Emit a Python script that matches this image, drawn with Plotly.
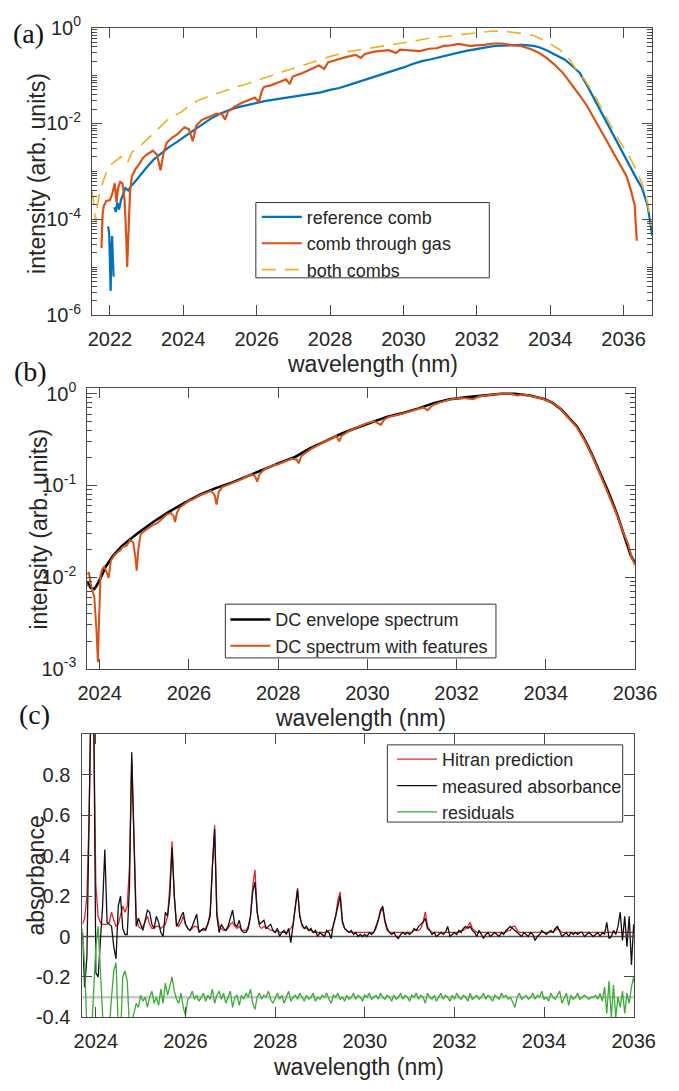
import plotly.graph_objects as go

# ---------------- Panel (a): comb spectra (log10 of intensity) ----------------
ref_wl = [2021.95, 2021.98, 2022.00, 2022.02, 2022.04, 2022.06, 2022.08, 2022.10, 2022.11, 2022.12,
          2022.16, 2022.20, 2022.25, 2022.30, 2022.36, 2022.42, 2022.50, 2022.58, 2022.65, 2022.80,
          2023.00, 2023.20, 2023.40, 2023.60, 2023.80, 2024.00, 2024.25, 2024.50, 2024.75, 2025.00,
          2025.25, 2025.50, 2025.75, 2026.00, 2026.25, 2026.50, 2026.75, 2027.00, 2027.25, 2027.50,
          2027.75, 2028.00, 2028.25, 2028.50, 2028.75, 2029.00, 2029.25, 2029.50, 2029.75, 2030.00,
          2030.25, 2030.50, 2030.75, 2031.00, 2031.25, 2031.50, 2031.75, 2032.00, 2032.25, 2032.50,
          2032.75, 2033.00, 2033.20, 2033.40, 2033.55, 2033.70, 2033.90, 2034.15, 2034.40, 2034.60,
          2034.80, 2035.00, 2035.20, 2035.40, 2035.60, 2035.85, 2036.10, 2036.30, 2036.50, 2036.65,
          2036.78]
ref_log10 = [-4.15, -4.3, -4.9, -5.5, -4.6, -4.35, -4.8, -5.2, None, -3.75,
             -3.85, -3.65, -3.8, -3.6, -3.45, -3.35, -3.4, -3.3, -3.25, -3.1,
             -2.92, -2.75, -2.62, -2.5, -2.4, -2.3, -2.16, -2.03, -1.9, -1.8,
             -1.72, -1.66, -1.61, -1.57, -1.53, -1.5, -1.47, -1.44, -1.42, -1.38,
             -1.35, -1.3, -1.26, -1.2, -1.14, -1.08, -1.02, -0.96, -0.9, -0.83,
             -0.76, -0.7, -0.66, -0.61, -0.56, -0.52, -0.48, -0.44, -0.41, -0.38,
             -0.37, -0.36, -0.36, -0.37, -0.38, -0.41, -0.47, -0.57, -0.67, -0.8,
             -0.94, -1.2, -1.49, -1.78, -2.08, -2.45, -2.78, -3.08, -3.35, -3.7,
             -4.35]

gas_wl = [2021.77, 2021.80, 2021.83, 2021.90, 2022.00, 2022.07, 2022.13, 2022.18, 2022.22, 2022.28,
          2022.34, 2022.40, 2022.44, 2022.47, 2022.51, 2022.55, 2022.60, 2022.70, 2022.80, 2022.90,
          2023.00, 2023.17, 2023.28, 2023.38, 2023.46, 2023.55, 2023.69, 2023.85, 2024.03, 2024.15,
          2024.26, 2024.35, 2024.50, 2024.70, 2024.90, 2025.05, 2025.14, 2025.22, 2025.40, 2025.60,
          2025.77, 2025.95, 2026.06, 2026.14, 2026.20, 2026.40, 2026.60, 2026.80, 2026.90, 2026.98,
          2027.20, 2027.50, 2027.70, 2027.84, 2027.95, 2028.10, 2028.40, 2028.70, 2028.84, 2028.95,
          2029.20, 2029.60, 2029.80, 2029.90, 2030.20, 2030.44, 2030.70, 2030.90, 2031.10, 2031.30,
          2031.50, 2031.80, 2032.00, 2032.20, 2032.45, 2032.70, 2033.00, 2033.20, 2033.48, 2033.70,
          2033.90, 2034.10, 2034.34, 2034.55, 2034.78, 2035.00, 2035.20, 2035.40, 2035.64, 2035.85,
          2036.08, 2036.20, 2036.30, 2036.36]
gas_log10 = [-4.6, -3.9, -3.73, -3.62, -3.6, -3.45, -3.25, -3.65, -3.35, -3.22,
             -3.25, -3.6, -4.3, -5.0, -4.2, -3.4, -3.1, -2.95, -2.85, -2.72,
             -2.65, -2.57, -2.65, -2.98, -2.62, -2.4, -2.3, -2.22, -2.08, -2.12,
             -2.37, -2.05, -1.93, -1.86, -1.8, -1.8, -1.92, -1.75, -1.65, -1.57,
             -1.51, -1.46, -1.55, -1.32, -1.24, -1.2, -1.14, -1.08, -1.18, -1.02,
             -0.96, -0.86, -0.79, -0.86, -0.72, -0.69, -0.62, -0.57, -0.63, -0.55,
             -0.5, -0.47, -0.53, -0.46, -0.47, -0.49, -0.44, -0.43, -0.38, -0.37,
             -0.34, -0.38, -0.37, -0.36, -0.33, -0.33, -0.37, -0.38, -0.45, -0.53,
             -0.63, -0.76, -0.94, -1.15, -1.39, -1.63, -1.9, -2.17, -2.5, -2.8,
             -3.1, -3.4, -3.7, -4.45]

both_wl = [2021.50, 2021.55, 2021.61, 2021.66, 2021.71, 2021.80, 2021.92, 2022.00, 2022.13, 2022.30,
           2022.47, 2022.60, 2022.83, 2023.00, 2023.25, 2023.60, 2023.95, 2024.20, 2024.40, 2024.70,
           2025.00, 2025.35, 2025.70, 2026.00, 2026.36, 2026.70, 2027.06, 2027.50, 2028.00, 2028.50,
           2029.00, 2029.60, 2030.20, 2030.70, 2031.20, 2031.74, 2032.10, 2032.45, 2032.80, 2033.04,
           2033.30, 2033.56, 2033.90, 2034.26, 2034.50, 2034.68, 2034.95, 2035.20, 2035.40, 2035.64,
           2035.90, 2036.16, 2036.35, 2036.50, 2036.65, 2036.75]
both_log10 = [-3.4, -3.6, -4.06, -3.7, -3.5, -3.25, -2.98, -2.88, -2.8, -2.7,
              -2.84, -2.6, -2.47, -2.35, -2.16, -1.9, -1.76, -1.6, -1.52, -1.43,
              -1.35, -1.26, -1.18, -1.1, -1.0, -0.92, -0.84, -0.72, -0.6, -0.5,
              -0.44, -0.37, -0.29, -0.22, -0.18, -0.14, -0.1, -0.07, -0.08, -0.1,
              -0.13, -0.17, -0.29, -0.46, -0.64, -0.84, -1.1, -1.4, -1.7, -2.03,
              -2.38, -2.7, -2.98, -3.25, -3.65, -4.14]

# ---------------- Panel (b): dual-comb spectra ----------------
env_wl = [2023.72, 2023.80, 2023.88, 2023.95, 2024.05, 2024.13, 2024.30, 2024.50, 2024.83, 2025.20,
          2025.55, 2025.90, 2026.26, 2026.60, 2026.96, 2027.30, 2027.68, 2028.00, 2028.38, 2028.70,
          2029.05, 2029.40, 2029.72, 2030.10, 2030.45, 2030.80, 2031.15, 2031.50, 2031.85, 2032.20,
          2032.57, 2033.00, 2033.30, 2033.64, 2033.98, 2034.15, 2034.34, 2034.50, 2034.70, 2034.87,
          2035.04, 2035.20, 2035.40, 2035.60, 2035.77, 2035.90, 2036.00]
env_log10 = [-2.05, -2.12, -2.13, -2.08, -1.98, -1.89, -1.77, -1.66, -1.53, -1.4,
             -1.29, -1.19, -1.1, -1.03, -0.97, -0.9, -0.83, -0.76, -0.69, -0.6,
             -0.52, -0.44, -0.38, -0.31, -0.25, -0.21, -0.16, -0.1, -0.06, -0.04,
             -0.02, 0.0, 0.0, -0.02, -0.06, -0.1, -0.17, -0.25, -0.36, -0.5,
             -0.67, -0.85, -1.07, -1.32, -1.57, -1.76, -1.85]

feat_wl = [2023.72, 2023.76, 2023.80, 2023.84, 2023.88, 2023.93, 2023.96, 2023.99, 2024.02, 2024.06,
           2024.10, 2024.15, 2024.20, 2024.25, 2024.32, 2024.40, 2024.46, 2024.52, 2024.60, 2024.68,
           2024.75, 2024.80, 2024.83, 2024.87, 2024.92, 2025.00, 2025.10, 2025.20, 2025.30, 2025.40,
           2025.50, 2025.60, 2025.66, 2025.69, 2025.73, 2025.80, 2025.90, 2026.00, 2026.10, 2026.20,
           2026.30, 2026.40, 2026.50, 2026.58, 2026.62, 2026.67, 2026.75, 2026.90, 2027.00, 2027.10,
           2027.20, 2027.30, 2027.40, 2027.48, 2027.53, 2027.58, 2027.68, 2027.80, 2027.90, 2028.00,
           2028.10, 2028.20, 2028.30, 2028.42, 2028.46, 2028.52, 2028.60, 2028.75, 2028.90, 2029.00,
           2029.15, 2029.30, 2029.37, 2029.42, 2029.55, 2029.70, 2029.85, 2030.00, 2030.15, 2030.30,
           2030.38, 2030.50, 2030.70, 2030.90, 2031.10, 2031.25, 2031.35, 2031.45, 2031.60, 2031.80,
           2032.00, 2032.20, 2032.37, 2032.50, 2032.80, 2033.00, 2033.20, 2033.36, 2033.50, 2033.70,
           2033.90, 2034.10, 2034.30, 2034.50, 2034.70, 2034.87, 2035.04, 2035.20, 2035.35, 2035.50,
           2035.60, 2035.70, 2035.77, 2035.85, 2035.92, 2036.00]
feat_log10 = [-1.97, -1.95, -2.08, -2.15, -2.22, -2.6, -2.93, -2.4, -1.98, -1.91,
              -1.89, -1.94, -2.01, -1.82, -1.77, -1.73, -1.71, -1.67, -1.66, -1.6,
              -1.62, -1.78, -1.93, -1.68, -1.53, -1.5, -1.46, -1.43, -1.41, -1.36,
              -1.32, -1.3, -1.34, -1.4, -1.3, -1.24, -1.2, -1.17, -1.15, -1.12,
              -1.1, -1.08, -1.06, -1.11, -1.21, -1.07, -1.02, -0.99, -0.97, -0.95,
              -0.93, -0.9, -0.88, -0.9, -0.96, -0.88, -0.83, -0.8, -0.78, -0.77,
              -0.75, -0.73, -0.71, -0.72, -0.76, -0.68, -0.65, -0.6, -0.56, -0.53,
              -0.5, -0.46, -0.52, -0.46, -0.42, -0.38, -0.35, -0.32, -0.3, -0.34,
              -0.28, -0.25, -0.23, -0.2, -0.17, -0.15, -0.18, -0.13, -0.1, -0.07,
              -0.05, -0.05, -0.06, -0.03, -0.01, 0.0, 0.0, -0.02, -0.01, -0.03,
              -0.05, -0.09, -0.15, -0.26, -0.37, -0.51, -0.68, -0.86, -1.03, -1.2,
              -1.33, -1.47, -1.55, -1.65, -1.78, -1.87]

# ---------------- Panel (c): absorbance ----------------
abs_wl = [2023.70, 2023.75, 2023.80, 2023.85, 2023.90, 2023.95, 2024.00, 2024.05, 2024.10, 2024.15,
          2024.20, 2024.25, 2024.30, 2024.35, 2024.40, 2024.45, 2024.50, 2024.55, 2024.60, 2024.65,
          2024.70, 2024.75, 2024.80, 2024.85, 2024.90, 2024.95, 2025.00, 2025.05, 2025.10, 2025.15,
          2025.20, 2025.25, 2025.30, 2025.35, 2025.40, 2025.45, 2025.50, 2025.55, 2025.60, 2025.65,
          2025.70, 2025.75, 2025.80, 2025.85, 2025.90, 2025.95, 2026.00, 2026.05, 2026.10, 2026.15,
          2026.20, 2026.25, 2026.30, 2026.35, 2026.40, 2026.45, 2026.50, 2026.55, 2026.60, 2026.65,
          2026.70, 2026.75, 2026.80, 2026.85, 2026.90, 2026.95, 2027.00, 2027.05, 2027.10, 2027.15,
          2027.20, 2027.25, 2027.30, 2027.35, 2027.40, 2027.45, 2027.50, 2027.55, 2027.60, 2027.65,
          2027.70, 2027.75, 2027.80, 2027.85, 2027.90, 2027.95, 2028.00, 2028.05, 2028.10, 2028.15,
          2028.20, 2028.25, 2028.30, 2028.35, 2028.40, 2028.45, 2028.50, 2028.55, 2028.60, 2028.65,
          2028.70, 2028.75, 2028.80, 2028.85, 2028.90, 2028.95, 2029.00, 2029.05, 2029.10, 2029.15,
          2029.20, 2029.25, 2029.30, 2029.35, 2029.40, 2029.45, 2029.50, 2029.55, 2029.60, 2029.65,
          2029.70, 2029.75, 2029.80, 2029.85, 2029.90, 2029.95, 2030.00, 2030.05, 2030.10, 2030.15,
          2030.20, 2030.25, 2030.30, 2030.35, 2030.40, 2030.45, 2030.50, 2030.55, 2030.60, 2030.65,
          2030.70, 2030.75, 2030.80, 2030.85, 2030.90, 2030.95, 2031.00, 2031.05, 2031.10, 2031.15,
          2031.20, 2031.25, 2031.30, 2031.35, 2031.40, 2031.45, 2031.50, 2031.55, 2031.60, 2031.65,
          2031.70, 2031.75, 2031.80, 2031.85, 2031.90, 2031.95, 2032.00, 2032.05, 2032.10, 2032.15,
          2032.20, 2032.25, 2032.30, 2032.35, 2032.40, 2032.45, 2032.50, 2032.55, 2032.60, 2032.65,
          2032.70, 2032.75, 2032.80, 2032.85, 2032.90, 2032.95, 2033.00, 2033.05, 2033.10, 2033.15,
          2033.20, 2033.25, 2033.30, 2033.35, 2033.40, 2033.45, 2033.50, 2033.55, 2033.60, 2033.65,
          2033.70, 2033.75, 2033.80, 2033.85, 2033.90, 2033.95, 2034.00, 2034.05, 2034.10, 2034.15,
          2034.20, 2034.25, 2034.30, 2034.35, 2034.40, 2034.45, 2034.50, 2034.55, 2034.60, 2034.65,
          2034.70, 2034.75, 2034.80, 2034.85, 2034.90, 2034.95, 2035.00, 2035.05, 2035.10, 2035.15,
          2035.20, 2035.25, 2035.30, 2035.35, 2035.40, 2035.45, 2035.50, 2035.55, 2035.60, 2035.65,
          2035.70, 2035.75, 2035.80, 2035.85, 2035.90, 2035.95, 2036.00, 2036.05]

hitran = [0.06, 0.09, 0.20, 0.60, 1.30, 1.10, 0.25, 0.10, 0.07, 0.06,
          0.06, 0.06, 0.07, 0.12, 0.08, 0.05, 0.06, 0.10, 0.15, 0.12,
          0.15, 0.35, 0.88, 0.50, 0.10, 0.05, 0.04, 0.05, 0.08, 0.10,
          0.06, 0.04, 0.04, 0.05, 0.05, 0.04, 0.05, 0.06, 0.10, 0.25,
          0.47, 0.20, 0.06, 0.05, 0.07, 0.10, 0.06, 0.04, 0.03, 0.04,
          0.05, 0.05, 0.03, 0.03, 0.03, 0.04, 0.06, 0.12, 0.35, 0.55,
          0.12, 0.05, 0.04, 0.03, 0.03, 0.04, 0.06, 0.07, 0.05, 0.04,
          0.05, 0.03, 0.03, 0.03, 0.05, 0.10, 0.25, 0.33, 0.12, 0.05,
          0.04, 0.05, 0.04, 0.04, 0.03, 0.03, 0.02, 0.03, 0.02, 0.02,
          0.02, 0.02, 0.03, 0.04, 0.06, 0.15, 0.24, 0.10, 0.05, 0.04,
          0.04, 0.03, 0.03, 0.02, 0.02, 0.02, 0.02, 0.02, 0.02, 0.02,
          0.03, 0.03, 0.05, 0.10, 0.18, 0.22, 0.08, 0.04, 0.03, 0.02,
          0.02, 0.02, 0.02, 0.02, 0.02, 0.02, 0.02, 0.02, 0.02, 0.02,
          0.02, 0.04, 0.08, 0.12, 0.14, 0.07, 0.03, 0.02, 0.02, 0.02,
          0.02, 0.02, 0.02, 0.02, 0.02, 0.02, 0.02, 0.02, 0.03, 0.03,
          0.03, 0.04, 0.07, 0.12, 0.05, 0.03, 0.02, 0.02, 0.02, 0.02,
          0.02, 0.02, 0.02, 0.02, 0.02, 0.02, 0.02, 0.02, 0.02, 0.03,
          0.03, 0.04, 0.05, 0.07, 0.04, 0.03, 0.02, 0.02, 0.02, 0.02,
          0.02, 0.02, 0.02, 0.02, 0.02, 0.02, 0.02, 0.02, 0.02, 0.02,
          0.03, 0.03, 0.05, 0.05, 0.03, 0.02, 0.02, 0.02, 0.02, 0.02,
          0.02, 0.02, 0.02, 0.02, 0.02, 0.02, 0.02, 0.02, 0.02, 0.02,
          0.02, 0.03, 0.04, 0.03, 0.02, 0.02, 0.02, 0.02, 0.02, 0.02,
          0.02, 0.02, 0.02, 0.02, 0.02, 0.02, 0.02, 0.02, 0.02, 0.02,
          0.02, 0.02, 0.02, 0.02, 0.02, 0.02, 0.02, 0.02, 0.02, 0.02,
          0.02, 0.02, 0.02, 0.02, 0.02, 0.02, 0.02, 0.02]

measured = [0.02, -0.25, -0.10, 0.60, 1.30, 1.20, -0.18, -0.20, -0.05, 0.15,
            0.43, 0.07, 0.06, 0.05, -0.05, -0.11, 0.15, 0.20, 0.04, 0.01,
            0.01, 0.25, 0.91, 0.45, 0.05, 0.09, 0.06, 0.03, 0.08, 0.13,
            0.12, 0.06, 0.04, 0.10, 0.07, 0.02, 0.00, 0.12, 0.10, 0.20,
            0.44, 0.20, 0.05, 0.07, 0.10, 0.12, 0.06, 0.04, 0.03, 0.05,
            0.08, 0.11, 0.02, 0.03, 0.04, 0.03, 0.06, 0.10, 0.35, 0.53,
            0.10, 0.02, 0.06, 0.04, 0.03, 0.05, 0.09, 0.13, 0.06, 0.05,
            0.08, 0.03, 0.02, 0.02, 0.04, 0.10, 0.22, 0.27, 0.12, 0.06,
            0.07, 0.08, 0.04, 0.05, 0.06, 0.03, 0.02, 0.04, 0.00, 0.02,
            0.03, 0.01, 0.04, -0.03, 0.05, 0.15, 0.23, 0.10, 0.06, 0.04,
            0.05, 0.03, 0.04, 0.02, 0.03, 0.00, 0.02, 0.01, 0.00, 0.03,
            0.02, -0.01, 0.06, 0.10, 0.16, 0.20, 0.07, 0.04, 0.03, 0.02,
            0.03, 0.01, 0.02, 0.00, 0.01, 0.00, 0.01, 0.00, 0.02, 0.01,
            0.02, 0.05, 0.08, 0.13, 0.15, 0.08, 0.04, 0.02, 0.01, 0.02,
            0.00, -0.01, 0.01, 0.02, 0.01, 0.02, 0.01, 0.02, 0.04, 0.03,
            0.05, 0.06, 0.07, 0.09, 0.04, 0.03, 0.01, 0.02, 0.00, 0.01,
            0.02, 0.01, 0.02, 0.05, 0.00, 0.01, 0.02, 0.01, 0.03, 0.02,
            0.04, 0.05, 0.04, 0.05, 0.03, 0.02, 0.00, 0.03, 0.01, -0.01,
            0.01, 0.02, 0.00, 0.01, 0.02, 0.01, 0.00, 0.02, 0.01, 0.03,
            0.04, 0.05, 0.04, 0.03, 0.02, 0.01, 0.00, 0.02, 0.01, 0.00,
            0.02, 0.01, -0.02, 0.00, 0.01, 0.03, 0.02, 0.01, 0.02, 0.03,
            0.02, 0.04, 0.05, 0.02, 0.00, 0.01, 0.02, 0.00, 0.02, 0.01,
            0.02, 0.01, 0.02, 0.02, 0.00, 0.01, 0.02, 0.01, 0.00, 0.01,
            0.02, 0.00, 0.02, 0.01, 0.07, -0.01, 0.00, 0.03, 0.01, 0.05,
            0.12, -0.02, 0.10, -0.05, 0.10, -0.14, 0.06, -0.02]

residuals = [0.04, -0.15, -0.45, -0.60, -0.50, -0.30, -0.05, 0.05, -0.20, -0.50,
             -0.60, -0.55, -0.45, -0.30, -0.17, -0.13, -0.45, -0.50, -0.20, -0.17,
             -0.22, -0.45, -0.42, -0.38, -0.33, -0.35, -0.29, -0.32, -0.30, -0.35,
             -0.30, -0.27, -0.33, -0.30, -0.34, -0.26, -0.33, -0.23, -0.29, -0.25,
             -0.20, -0.27, -0.31, -0.33, -0.28, -0.35, -0.39, -0.31, -0.30, -0.27,
             -0.31, -0.29, -0.32, -0.30, -0.28, -0.32, -0.29, -0.31, -0.26, -0.33,
             -0.29, -0.27, -0.31, -0.28, -0.33, -0.30, -0.27, -0.35, -0.30, -0.29,
             -0.34, -0.29, -0.31, -0.28, -0.30, -0.26, -0.33, -0.36, -0.30, -0.28,
             -0.31, -0.29, -0.30, -0.27, -0.31, -0.33, -0.30, -0.28, -0.31, -0.29,
             -0.33, -0.30, -0.27, -0.32, -0.30, -0.29, -0.31, -0.28, -0.30, -0.32,
             -0.29, -0.31, -0.30, -0.28, -0.32, -0.30, -0.31, -0.29, -0.30, -0.28,
             -0.31, -0.33, -0.29, -0.30, -0.28, -0.31, -0.30, -0.32, -0.29, -0.31,
             -0.30, -0.28, -0.31, -0.29, -0.30, -0.32, -0.29, -0.30, -0.28, -0.31,
             -0.30, -0.29, -0.31, -0.28, -0.30, -0.31, -0.29, -0.30, -0.32, -0.29,
             -0.31, -0.30, -0.28, -0.31, -0.29, -0.30, -0.32, -0.29, -0.30, -0.28,
             -0.31, -0.29, -0.30, -0.33, -0.28, -0.30, -0.31, -0.29, -0.32, -0.30,
             -0.28, -0.31, -0.29, -0.30, -0.32, -0.29, -0.31, -0.28, -0.30, -0.31,
             -0.29, -0.30, -0.32, -0.28, -0.31, -0.30, -0.29, -0.31, -0.30, -0.28,
             -0.31, -0.29, -0.30, -0.32, -0.29, -0.30, -0.31, -0.28, -0.30, -0.29,
             -0.31, -0.30, -0.33, -0.35, -0.30, -0.28, -0.31, -0.30, -0.29, -0.31,
             -0.30, -0.28, -0.31, -0.29, -0.30, -0.27, -0.31, -0.30, -0.32, -0.28,
             -0.30, -0.31, -0.29, -0.27, -0.33, -0.30, -0.28, -0.34, -0.29, -0.31,
             -0.30, -0.28, -0.31, -0.30, -0.29, -0.30, -0.31, -0.30, -0.30, -0.29,
             -0.31, -0.28, -0.32, -0.25, -0.38, -0.22, -0.40, -0.24, -0.40, -0.30,
             -0.35, -0.27, -0.38, -0.28, -0.33, -0.25, -0.20, -0.28]

assert len(ref_wl) == len(ref_log10)
assert len(gas_wl) == len(gas_log10)
assert len(both_wl) == len(both_log10)
assert len(env_wl) == len(env_log10)
assert len(feat_wl) == len(feat_log10)
assert len(abs_wl) == len(hitran) == len(measured) == len(residuals)


def lin(vals):
    return [None if v is None else 10 ** v for v in vals]


W, H = 679, 1091
def px(x):
    return x / W
def py(y):
    return 1 - y / H

FONT = "Liberation Sans, Arial, Helvetica, sans-serif"
AX = "#4a4a4a"
TXT = "#262626"

fig = go.Figure()

# (a)
fig.add_trace(go.Scatter(x=ref_wl, y=lin(ref_log10), mode="lines", name="reference comb",
                         line=dict(color="#0072BD", width=2.2), xaxis="x", yaxis="y", legend="legend"))
fig.add_trace(go.Scatter(x=gas_wl, y=lin(gas_log10), mode="lines", name="comb through gas",
                         line=dict(color="#D95319", width=2.2), xaxis="x", yaxis="y", legend="legend"))
fig.add_trace(go.Scatter(x=both_wl, y=lin(both_log10), mode="lines", name="both combs",
                         line=dict(color="#EDB120", width=1.6, dash="14px,9px"), xaxis="x", yaxis="y",
                         legend="legend"))
# (b)
fig.add_trace(go.Scatter(x=env_wl, y=lin(env_log10), mode="lines", name="DC envelope spectrum",
                         line=dict(color="#000000", width=2.6), xaxis="x2", yaxis="y2", legend="legend2"))
fig.add_trace(go.Scatter(x=feat_wl, y=lin(feat_log10), mode="lines", name="DC spectrum with features",
                         line=dict(color="#D95319", width=2.0), xaxis="x2", yaxis="y2", legend="legend2"))
# (c)
fig.add_trace(go.Scatter(x=abs_wl, y=hitran, mode="lines", name="Hitran prediction",
                         line=dict(color="#e8202a", width=1.3), xaxis="x3", yaxis="y3", legend="legend3"))
fig.add_trace(go.Scatter(x=abs_wl, y=measured, mode="lines", name="measured absorbance",
                         line=dict(color="#111111", width=1.3), xaxis="x3", yaxis="y3", legend="legend3"))
fig.add_trace(go.Scatter(x=abs_wl, y=residuals, mode="lines", name="residuals",
                         line=dict(color="#3aab36", width=1.3), xaxis="x3", yaxis="y3", legend="legend3"))

common_ax = dict(showline=True, linecolor=AX, linewidth=1, mirror="ticks", ticks="inside",
                 tickcolor=AX, tickwidth=1, showgrid=False, zeroline=False,
                 tickfont=dict(family=FONT, size=20, color=TXT))

xt = [2022, 2024, 2026, 2028, 2030, 2032, 2034, 2036]
xt2 = [2024, 2026, 2028, 2030, 2032, 2034, 2036]

def log_minor(lo, hi):
    vals = []
    for k in range(lo, hi):
        for m in range(2, 10):
            vals.append(m * 10 ** k)
        if k > lo:
            vals.append(10 ** k)
    return vals

LEG = dict(xanchor="left", yanchor="top", bgcolor="rgba(0,0,0,0)", borderwidth=0,
           font=dict(family=FONT, size=18, color=TXT), itemwidth=40, tracegroupgap=0)

fig.update_layout(
    width=W, height=H, margin=dict(l=0, r=0, t=0, b=0),
    paper_bgcolor="white", plot_bgcolor="white",
    font=dict(family=FONT, color=TXT),
    xaxis=dict(common_ax, domain=[px(86), px(674)], range=[2021.51, 2036.78], anchor="y",
               tickvals=xt, ticklen=10, ticklabelstandoff=6),
    yaxis=dict(common_ax, domain=[py(308), py(14)], type="log", range=[-6, 0], anchor="x",
               tickvals=[1e-6, 1e-4, 1e-2, 1], ticktext=["10<sup>-6</sup>", "10<sup>-4</sup>", "10<sup>-2</sup>", "10<sup>0</sup>"],
               ticklen=10, ticklabelstandoff=6,
               minor=dict(tickvals=[v for v in log_minor(-6, 0) if v not in (1e-4, 1e-2)], ticks="inside", ticklen=5,
                          tickcolor=AX)),
    xaxis2=dict(common_ax, domain=[px(81), px(656)], range=[2023.72, 2036.0], anchor="y2",
                tickvals=xt2, ticklen=10, ticklabelstandoff=6),
    yaxis2=dict(common_ax, domain=[py(670), py(383)], type="log", range=[-3.0, 0.06], anchor="x2",
                tickvals=[1e-3, 1e-2, 1e-1, 1], ticktext=["10<sup>-3</sup>", "10<sup>-2</sup>", "10<sup>-1</sup>", "10<sup>0</sup>"],
                ticklen=10, ticklabelstandoff=6,
                minor=dict(tickvals=[m * 10 ** k for k in range(-3, 0) for m in range(2, 10)], ticks="inside",
                           ticklen=5, tickcolor=AX)),
    xaxis3=dict(common_ax, domain=[px(76), px(655)], range=[2023.70, 2036.01], anchor="y3",
                tickvals=xt2, ticklen=10, ticklabelstandoff=6),
    yaxis3=dict(common_ax, domain=[py(1027), py(737)], range=[-0.4, 1.0], anchor="x3",
                tickvals=[-0.4, -0.2, 0, 0.2, 0.4, 0.6, 0.8],
                ticktext=["-0.4", "-0.2", "0", "0.2", "0.4", "0.6", "0.8"],
                ticklen=10, ticklabelstandoff=7),
    legend=dict(LEG, x=px(259), y=py(189)),
    legend2=dict(LEG, x=px(226), y=py(601)),
    legend3=dict(LEG, x=px(401), y=py(744)),
    showlegend=True,
)

# legend frames
for (x0, y0, x1, y1) in [(258, 193, 503, 270), (226, 604, 510, 659), (396, 748, 643, 827)]:
    fig.add_shape(type="rect", xref="paper", yref="paper", x0=px(x0), x1=px(x1), y0=py(y1), y1=py(y0),
                  line=dict(color="#333333", width=1), fillcolor="white", layer="above")

# reference lines in (c)
fig.add_shape(type="line", xref="x3 domain", yref="y3", x0=0, x1=1, y0=-0.3, y1=-0.3,
              line=dict(color="#c8c8c8", width=2.5), layer="below")
fig.add_shape(type="line", xref="x3 domain", yref="y3", x0=0, x1=1, y0=0, y1=0,
              line=dict(color="#555555", width=1.5), layer="below")

# axis titles and panel labels
ann = []
for (xc, yc, t) in [(380, 358, "wavelength (nm)"), (368, 720, "wavelength (nm)"), (366, 1078, "wavelength (nm)")]:
    ann.append(dict(x=px(xc), y=py(yc), xref="paper", yref="paper", text=t, showarrow=False,
                    xanchor="center", yanchor="middle", font=dict(family=FONT, size=23, color=TXT)))
for (xc, yc, t) in [(29, 163, "intensity (arb. units)"), (30, 527, "intensity (arb. units)"), (27, 882, "absorbance")]:
    ann.append(dict(x=px(xc), y=py(yc), xref="paper", yref="paper", text=t, showarrow=False, textangle=-90,
                    xanchor="center", yanchor="middle", font=dict(family=FONT, size=23, color=TXT)))
for (xc, yc, t) in [(19, 20, "(a)"), (21, 366, "(b)"), (26, 717, "(c)")]:
    ann.append(dict(x=px(xc), y=py(yc), xref="paper", yref="paper", text=t, showarrow=False,
                    xanchor="center", yanchor="middle",
                    font=dict(family="Liberation Serif, Times New Roman, serif", size=28, color="#111111")))
fig.update_layout(annotations=ann)

fig.write_html("out.html")
